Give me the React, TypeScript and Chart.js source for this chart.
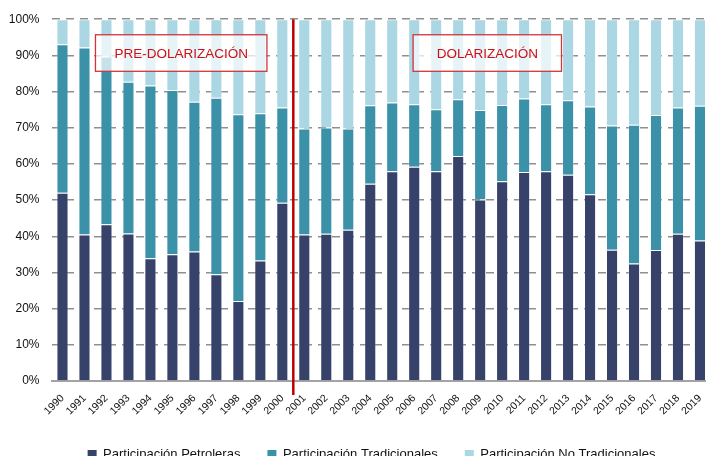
import { useEffect, useRef } from "react";
import { Chart, registerables } from "chart.js";

Chart.register(...registerables);

const years = [
  "1990", "1991", "1992", "1993", "1994", "1995", "1996", "1997", "1998", "1999",
  "2000", "2001", "2002", "2003", "2004", "2005", "2006", "2007", "2008", "2009",
  "2010", "2011", "2012", "2013", "2014", "2015", "2016", "2017", "2018", "2019",
];

const petroleras = [
  52.0, 40.5, 43.3, 40.8, 33.9, 35.0, 35.8, 29.5, 22.1, 33.3,
  49.3, 40.5, 40.7, 41.8, 54.5, 58.0, 59.2, 58.0, 62.2, 50.2,
  55.2, 57.8, 58.0, 57.0, 51.6, 36.3, 32.5, 36.2, 40.7, 38.8,
];

const tradicionales = [
  41.1, 51.7, 46.4, 41.9, 47.8, 45.4, 41.4, 48.8, 51.6, 40.7,
  26.3, 29.3, 29.4, 28.0, 21.7, 19.0, 17.3, 17.1, 15.7, 24.7,
  21.1, 20.3, 18.5, 20.6, 24.3, 34.3, 38.3, 37.3, 34.9, 37.3,
];

const noTradicionales = [
  6.9, 7.8, 10.3, 17.3, 18.3, 19.6, 22.8, 21.7, 26.3, 26.0,
  24.4, 30.2, 29.9, 30.2, 23.8, 23.0, 23.5, 24.9, 22.1, 25.1,
  23.7, 21.9, 23.5, 22.4, 24.1, 29.4, 29.2, 26.5, 24.4, 23.9,
];

const seriesNames = [
  "Participación Petroleras",
  "Participación Tradicionales",
  "Participación No Tradicionales",
];

const periodNames = ["PRE-DOLARIZACIÓN", "DOLARIZACIÓN"];
const breakAfterYear = "2000";

const FONT = "'Liberation Sans', Arial, sans-serif";

const annotationPlugin = {
  id: "periods",
  afterLayout(chart: any) {
    const lg = chart.legend;
    if (lg) {
      lg.left += 15;
      lg.right += 15;
    }
  },
  afterDatasetsDraw(chart: any) {
    const { ctx, scales } = chart;
    const x = scales.x;
    const y = scales.y;
    const boxes = [
      { label: periodNames[0], x0: 1.5, x1: 9.3 },
      { label: periodNames[1], x0: 15.95, x1: 22.7 },
    ];
    ctx.save();
    boxes.forEach((b) => {
      const step = x.getPixelForValue(1) - x.getPixelForValue(0);
      const origin = x.getPixelForValue(0) - step / 2;
      const left = origin + (b.x0 + 0.5) * step;
      const right = origin + (b.x1 + 0.5) * step;
      const top = y.getPixelForValue(95.7);
      const bottom = y.getPixelForValue(85.6);
      ctx.fillStyle = "rgba(255,255,255,0.72)";
      ctx.fillRect(left, top, right - left, bottom - top);
      ctx.strokeStyle = "#d2343c";
      ctx.lineWidth = 1.3;
      ctx.strokeRect(left, top, right - left, bottom - top);
      ctx.fillStyle = "#cc1019";
      ctx.font = `13.5px ${FONT}`;
      ctx.textAlign = "center";
      ctx.textBaseline = "middle";
      ctx.fillText(b.label, (left + right) / 2, (top + bottom) / 2 + 1);
    });
    ctx.restore();
  },
  afterDraw(chart: any) {
    const { ctx, scales, chartArea } = chart;
    const i = years.indexOf(breakAfterYear);
    const px = (scales.x.getPixelForValue(i) + scales.x.getPixelForValue(i + 1)) / 2;
    ctx.save();
    ctx.strokeStyle = "#c00000";
    ctx.lineWidth = 2.5;
    ctx.beginPath();
    ctx.moveTo(px, chartArea.top);
    ctx.lineTo(px, chartArea.bottom + 14);
    ctx.stroke();
    ctx.restore();
  },
};

export default function App() {
  const ref = useRef<HTMLCanvasElement>(null);

  useEffect(() => {
    if (!ref.current) return;
    const edge = "rgba(255,255,255,0.22)";
    const chart = new Chart(ref.current, {
      type: "bar",
      data: {
        labels: years,
        datasets: [
          { label: seriesNames[0], data: petroleras, backgroundColor: "#36426a", borderColor: edge, borderWidth: 1 },
          { label: seriesNames[1], data: tradicionales, backgroundColor: "#3a91a8", borderColor: edge, borderWidth: 1 },
          { label: seriesNames[2], data: noTradicionales, backgroundColor: "#aad7e3", borderColor: edge, borderWidth: 1 },
        ],
      },
      options: {
        responsive: false,
        animation: false,
        devicePixelRatio: 1,
        datasets: { bar: { barPercentage: 0.55, categoryPercentage: 1 } },
        layout: { padding: { top: 13, right: 7, left: 0, bottom: 0 } },
        scales: {
          x: {
            stacked: true,
            grid: { display: false, drawTicks: false },
            border: { display: true, color: "#a3a3a3", width: 2 },
            ticks: {
              autoSkip: false,
              maxRotation: 45,
              minRotation: 45,
              padding: 11,
              color: "#111",
              font: { family: FONT, size: 10.5 },
            },
            afterFit: (s: any) => {
              s.height = 40;
            },
          },
          y: {
            stacked: true,
            min: 0,
            max: 100,
            ticks: {
              stepSize: 10,
              padding: 12,
              color: "#111",
              font: { family: FONT, size: 12 },
              callback: (v: any) => `${v}%`,
            },
            grid: { color: "#8f8f8f", lineWidth: 1.5, drawTicks: false },
            border: { display: false, dash: [8, 6] },
            afterFit: (s: any) => {
              s.width = 51.5;
            },
          },
        },
        plugins: {
          tooltip: { enabled: false },
          legend: {
            position: "bottom",
            labels: {
              boxWidth: 9,
              boxHeight: 9,
              padding: 27,
              color: "#111",
              font: { family: FONT, size: 13 },
              generateLabels: (c: any) =>
                Chart.defaults.plugins.legend.labels
                  .generateLabels(c)
                  .map((l: any) => ({ ...l, lineWidth: 0, strokeStyle: "rgba(0,0,0,0)" })),
            },
          },
        },
      },
      plugins: [annotationPlugin],
    });
    return () => chart.destroy();
  }, []);

  return (
    <div style={{ position: "fixed", left: 0, top: 0, width: 720, height: 471, background: "#fff" }}>
      <canvas ref={ref} width={720} height={471} style={{ width: 720, height: 471, display: "block" }} />
    </div>
  );
}
